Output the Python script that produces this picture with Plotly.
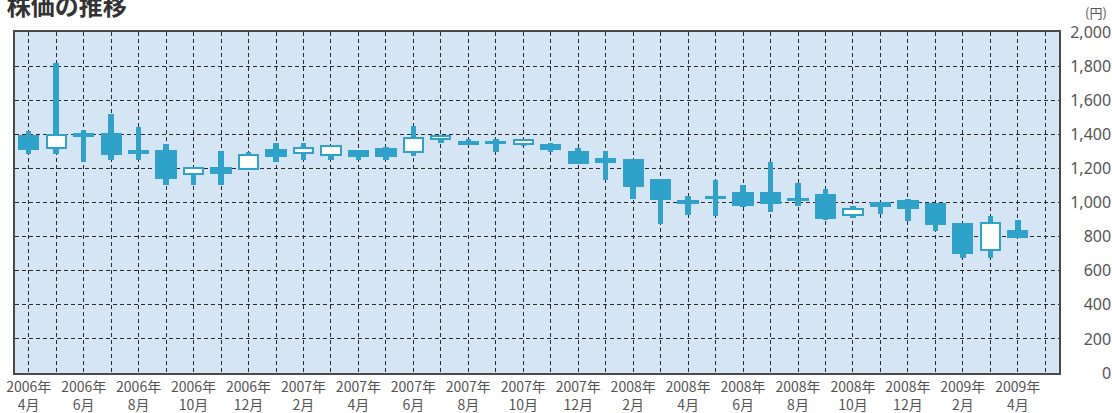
import plotly.graph_objects as go

# ---- data (monthly candles, 2006/4 .. 2009/4) ----
open_ = [1390, 1318, 1400, 1404, 1300, 1304, 1170, 1200, 1195, 1308, 1290, 1278, 1302,
         1314, 1294, 1372, 1357, 1348, 1345, 1335, 1298, 1258, 1247, 1133, 1010, 1028,
         1057, 1057, 1015, 1045, 928, 998, 1006, 994, 873, 720, 832]
close = [1316, 1396, 1392, 1282, 1290, 1145, 1200, 1172, 1278, 1275, 1320, 1333, 1270,
         1273, 1380, 1388, 1345, 1352, 1365, 1315, 1233, 1240, 1096, 1020, 1000, 1031,
         988, 998, 1022, 908, 964, 980, 965, 871, 704, 880, 795]
high = [1420, 1818, 1423, 1520, 1443, 1343, 1202, 1302, 1298, 1351, 1347, 1335, 1302,
        1327, 1451, 1390, 1371, 1371, 1373, 1351, 1318, 1300, 1250, 1135, 1037, 1131,
        1100, 1237, 1114, 1082, 978, 998, 1020, 995, 874, 920, 896]
low = [1282, 1282, 1239, 1249, 1249, 1102, 1102, 1100, 1195, 1239, 1249, 1249, 1249,
       1249, 1274, 1350, 1337, 1298, 1331, 1296, 1233, 1131, 1022, 871, 929, 920,
       971, 945, 980, 898, 910, 931, 890, 831, 674, 674, 795]

# x tick labels (every second month)
tick_labels = ["2006年<br>4月", "2006年<br>6月", "2006年<br>8月", "2006年<br>10月", "2006年<br>12月",
               "2007年<br>2月", "2007年<br>4月", "2007年<br>6月", "2007年<br>8月", "2007年<br>10月",
               "2007年<br>12月", "2008年<br>2月", "2008年<br>4月", "2008年<br>6月", "2008年<br>8月",
               "2008年<br>10月", "2008年<br>12月", "2009年<br>2月", "2009年<br>4月"]
n_slots = 38  # one extra empty month slot at the right
y_ticks = [0, 200, 400, 600, 800, 1000, 1200, 1400, 1600, 1800, 2000]

BLUE = "#2fa2ca"
FS = "\u2007"  # figure space (digit width)
PS = "\u2008"  # punctuation space (comma width)

x = list(range(len(open_)))
body_base = [min(o, c) for o, c in zip(open_, close)]
body_h = [abs(c - o) for o, c in zip(open_, close)]
body_fill = ["#ffffff" if c > o else BLUE for o, c in zip(open_, close)]
wick_h = [h - l for h, l in zip(high, low)]

xticktext = []
for i in range(n_slots):
    xticktext.append(tick_labels[i // 2] if (i % 2 == 0 and i // 2 < len(tick_labels)) else "")


def fmt(v):
    s = f"{v:,}"
    pad_digits = 4 - sum(ch.isdigit() for ch in s)
    pad_comma = 0 if "," in s else 1
    return FS * pad_digits + PS * pad_comma + s


yticktext = [fmt(v) for v in y_ticks]

fig = go.Figure()
fig.add_trace(go.Bar(x=x, base=low, y=wick_h, width=0.2, opacity=1,
                     marker=dict(color=BLUE, line=dict(width=0)),
                     hoverinfo="skip", showlegend=False))
fig.add_trace(go.Bar(x=x, base=body_base, y=body_h, width=0.7, opacity=1,
                     marker=dict(color=body_fill, line=dict(color=BLUE, width=2)),
                     showlegend=False))

grid = dict(showgrid=True, gridcolor="#2a2a2a", gridwidth=1, griddash="4px,3px",
            zeroline=False, showline=True, mirror=True, linecolor="#4a4a4a", linewidth=2,
            ticks="", automargin=False)

fig.update_layout(
    width=1112, height=413,
    margin=dict(l=15, r=53, t=32, b=40),
    paper_bgcolor="white", plot_bgcolor="#d5e5f4",
    barmode="overlay", bargap=0,
    font=dict(family="Noto Sans, Noto Sans CJK JP", color="#555555"),
    xaxis=dict(range=[-0.5, n_slots - 0.5], tickmode="array",
               tickvals=list(range(n_slots)), ticktext=xticktext,
               tickfont=dict(size=14, family="Noto Sans CJK JP", color="#555555"),
               ticklabelstandoff=0, **grid),
    yaxis=dict(range=[0, 2000], side="right", tickmode="array",
               tickvals=y_ticks, ticktext=yticktext,
               tickfont=dict(size=16, family="Noto Sans", color="#555555"),
               ticklabelstandoff=6, **grid),
    title=dict(text="<b>株価の推移</b>", font=dict(size=24, family="Noto Sans CJK JP", color="#333333"),
               xref="container", yref="container", x=0.006, xanchor="left",
               y=0.985, yanchor="middle"),
    annotations=[dict(text="(円)", xref="paper", yref="paper", x=1.048, y=1.058,
                      xanchor="right", yanchor="middle", showarrow=False,
                      font=dict(size=13, family="Noto Sans CJK JP", color="#555555"))],
)

fig.write_html("out.html")
